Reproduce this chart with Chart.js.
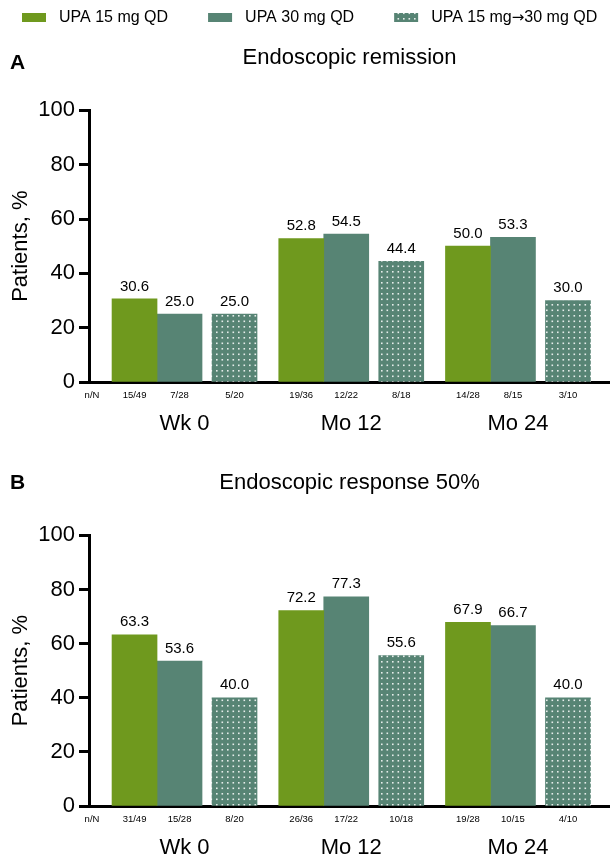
<!DOCTYPE html>
<html lang="en">
<head>
    <meta charset="UTF-8">
    <title>Endoscopic remission and response</title>
    <script src="https://cdn.jsdelivr.net/npm/chart.js@4.4.1/dist/chart.umd.min.js"></script>
    <style>
        body { margin: 0; background: #fff; }
        canvas { display: block; }
    </style>
</head>
<body>
    <canvas id="chartA" width="610" height="445"></canvas>
    <canvas id="chartB" width="610" height="416"></canvas>

    <script>
        const timepoints = ['Wk 0', 'Mo 12', 'Mo 24'];
        const seriesNames = ['UPA 15 mg QD', 'UPA 30 mg QD', 'UPA 15 mg\u219230 mg QD'];
        const yTicks = [0, 20, 40, 60, 80, 100];

        // A - endoscopic remission, %
        const remission15 = [30.6, 52.8, 50.0];
        const remission30 = [25.0, 54.5, 53.3];
        const remissionEsc = [25.0, 44.4, 30.0];
        const remissionN15 = ['15/49', '19/36', '14/28'];
        const remissionN30 = ['7/28', '12/22', '8/15'];
        const remissionNEsc = ['5/20', '8/18', '3/10'];

        // B - endoscopic response 50%, %
        const response15 = [63.3, 72.2, 67.9];
        const response30 = [53.6, 77.3, 66.7];
        const responseEsc = [40.0, 55.6, 40.0];
        const responseN15 = ['31/49', '26/36', '19/28'];
        const responseN30 = ['15/28', '17/22', '10/15'];
        const responseNEsc = ['8/20', '10/18', '4/10'];

        const FONT = '"Liberation Sans", Arial, sans-serif';
        const GREEN = '#6f991e';
        const TEAL = '#578474';
        Chart.defaults.font.family = FONT;
        Chart.defaults.color = '#000';

        // teal with small white dots
        function dotPattern() {
            const tile = document.createElement('canvas');
            tile.width = 11;
            tile.height = 11;
            const t = tile.getContext('2d');
            t.fillStyle = TEAL;
            t.fillRect(0, 0, 11, 11);
            t.fillStyle = 'rgba(255,255,255,0.85)';
            [[1.5, 1.5], [7, 1.5], [1.5, 7], [7, 7]].forEach(p => t.fillRect(p[0], p[1], 1.6, 1.6));
            return t.createPattern(tile, 'repeat');
        }
        const dots = dotPattern();

        // legend text; the arrow comes from DejaVu, Liberation's one is tiny
        function drawLabel(ctx, text, x, y) {
            text.split(/(\u2192)/).forEach(part => {
                if (!part) return;
                ctx.font = part === '\u2192' ? '15px "DejaVu Sans"' : '16px ' + FONT;
                ctx.fillText(part, x, y);
                x += ctx.measureText(part).width;
            });
            return x;
        }

        // value labels, n/N row, panel letter, legend
        const extras = {
            id: 'extras',
            afterDatasetsDraw(chart, args, opts) {
                const ctx = chart.ctx;
                const area = chart.chartArea;
                ctx.save();
                ctx.fillStyle = '#000';
                ctx.textAlign = 'center';
                chart.data.datasets.forEach((ds, di) => {
                    chart.getDatasetMeta(di).data.forEach((bar, i) => {
                        ctx.font = '15px ' + FONT;
                        ctx.textBaseline = 'bottom';
                        ctx.fillText(ds.data[i].y.toFixed(1), bar.x, bar.y - 5);
                        ctx.font = '9.5px ' + FONT;
                        ctx.textBaseline = 'middle';
                        ctx.fillText(opts.counts[di][i], bar.x, area.bottom + 13);
                    });
                });
                ctx.fillText('n/N', 92, area.bottom + 13);

                ctx.font = 'bold 21px ' + FONT;
                ctx.textAlign = 'left';
                ctx.fillText(opts.letter, 10, opts.letterY);

                if (opts.legend) {
                    let x = 22;
                    chart.data.datasets.forEach(ds => {
                        ctx.fillStyle = ds.backgroundColor;
                        ctx.fillRect(x, 13, 24, 9);
                        ctx.fillStyle = '#000';
                        x = drawLabel(ctx, ds.label, x + 37, 18) + 40;
                    });
                }
                ctx.restore();
            }
        };

        function makeChart(id, title, values, counts, letter, letterY, topPad, xHeight, legend) {
            const toPoints = vals => vals.map((v, i) => ({ x: i, y: v }));
            return new Chart(document.getElementById(id), {
                type: 'bar',
                data: {
                    datasets: [
                        { label: seriesNames[0], data: toPoints(values[0]), backgroundColor: GREEN, barThickness: 45 },
                        { label: seriesNames[1], data: toPoints(values[1]), backgroundColor: TEAL, barThickness: 45 },
                        { label: seriesNames[2], data: toPoints(values[2]), backgroundColor: dots, barThickness: 55, maxBarThickness: 45 }
                    ]
                },
                plugins: [extras],
                options: {
                    responsive: false,
                    animation: false,
                    layout: { padding: { top: topPad, left: 0, right: 0, bottom: 0 } },
                    plugins: {
                        legend: { display: false },
                        tooltip: { enabled: false },
                        title: {
                            display: true,
                            text: title,
                            fullSize: false,
                            font: { size: 22, weight: 'normal' },
                            color: '#000',
                            padding: { top: 15, bottom: 39 }
                        },
                        extras: { counts, letter, letterY, legend }
                    },
                    scales: {
                        x: {
                            type: 'linear',
                            min: -0.543,
                            max: 2.582,
                            offset: false,
                            bounds: 'data',
                            grid: { display: false, drawTicks: false },
                            border: { display: true, width: 3, color: '#000' },
                            afterBuildTicks: s => { s.ticks = timepoints.map((t, i) => ({ value: i })); },
                            afterFit: s => { s.height = xHeight; },
                            ticks: {
                                callback: v => timepoints[v],
                                font: { size: 22 },
                                color: '#000',
                                padding: 29,
                                labelOffset: 5,
                                maxRotation: 0
                            }
                        },
                        y: {
                            min: 0,
                            max: 100,
                            afterBuildTicks: s => { s.ticks = yTicks.map(v => ({ value: v })); },
                            afterFit: s => { s.width = 89; },
                            grid: { display: true, drawOnChartArea: false, drawTicks: true, tickLength: 10, tickWidth: 3, tickColor: '#000' },
                            border: { display: true, width: 3, color: '#000' },
                            ticks: { font: { size: 22 }, color: '#000', padding: 4 },
                            title: {
                                display: true,
                                text: 'Patients, %',
                                font: { size: 22 },
                                color: '#000',
                                padding: { top: 8, bottom: 0 }
                            }
                        }
                    }
                }
            });
        }

        makeChart('chartA', 'Endoscopic remission',
            [remission15, remission30, remissionEsc],
            [remissionN15, remissionN30, remissionNEsc],
            'A', 63, 30, 63, true);

        makeChart('chartB', 'Endoscopic response 50%',
            [response15, response30, responseEsc],
            [responseN15, responseN30, responseNEsc],
            'B', 38, 10, 55, false);
    </script>
</body>
</html>
